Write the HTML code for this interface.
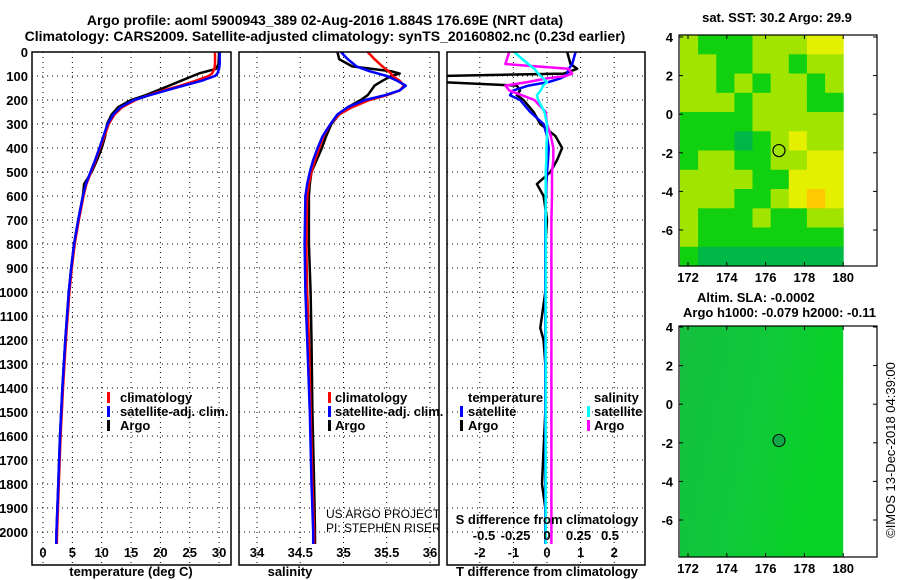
<!DOCTYPE html>
<html><head><meta charset="utf-8"><style>
body{margin:0;background:#fff}
svg{display:block;font-family:"Liberation Sans",sans-serif}
.b{font-weight:bold;font-size:13px}
</style></head><body>
<svg id="c" width="900" height="580" viewBox="0 0 900 580" xmlns="http://www.w3.org/2000/svg">
<defs>
<clipPath id="cp1"><rect x="32" y="52" width="199" height="513"/></clipPath>
<clipPath id="cp2"><rect x="239" y="52" width="200" height="513"/></clipPath>
<clipPath id="cp3"><rect x="447" y="52" width="198" height="513"/></clipPath>
<linearGradient id="slag" x1="0" y1="0" x2="1" y2="0.3">
<stop offset="0" stop-color="#14bf3e"/><stop offset="0.5" stop-color="#10c83a"/><stop offset="1" stop-color="#06d424"/></linearGradient>
</defs>
<text x="325" y="25" text-anchor="middle" class="b" style="font-size:14px">Argo profile: aoml 5900943_389 02-Aug-2016 1.884S 176.69E (NRT data)</text>
<text x="325" y="41" text-anchor="middle" class="b" style="font-size:14px">Climatology: CARS2009. Satellite-adjusted climatology: synTS_20160802.nc (0.23d earlier)</text>
<g id="g"></g>
</svg>
<script>
// ---- profile data ----
const tDepth=[0,50,70,90,100,120,140,160,180,200,230,260,300,350,400,450,500,550,600,700,800,900,1000,1200,1400,1600,1800,2000,2050];
const tClim=[29.3,29.3,29.2,28.8,28.2,26.0,23.5,20.5,18.0,15.8,13.5,12.2,11.2,10.5,9.7,9.0,8.2,7.4,6.9,6.1,5.4,4.9,4.5,3.9,3.4,3.0,2.7,2.4,2.35];
const tSat=[30.1,30.1,30.0,29.7,29.3,27.0,24.0,21.0,18.2,15.5,13.2,12.0,11.0,10.3,9.6,8.9,8.1,7.3,6.8,6.0,5.3,4.8,4.4,3.8,3.3,2.9,2.6,2.3,2.25];
const tArgo=[30.0,29.9,29.5,26.5,25.5,23.5,21.5,19.5,17.5,15.0,12.8,11.7,10.9,10.6,10.0,9.2,8.3,7.0,6.8,6.0,5.3,4.8,4.4,3.8,3.3,2.9,2.6,2.3,2.3];
const sDepth=[0,30,60,80,90,100,120,140,160,180,200,230,260,300,350,400,450,500,550,600,800,1000,1200,1500,1800,2000,2050];
const sClim=[35.28,35.36,35.45,35.52,35.55,35.57,35.65,35.70,35.65,35.5,35.3,35.1,34.95,34.85,34.77,34.72,34.67,34.63,34.6,34.58,34.57,34.58,34.6,34.62,34.64,34.66,34.66];
const sSat=[34.97,35.05,35.15,35.3,35.4,35.5,35.62,35.72,35.65,35.48,35.25,35.05,34.93,34.85,34.76,34.7,34.65,34.61,34.58,34.56,34.55,34.56,34.58,34.61,34.63,34.65,34.65];
const sArgo=[34.93,34.95,35.1,35.55,35.65,35.55,35.45,35.36,35.32,35.28,35.2,35.05,34.95,34.86,34.8,34.75,34.69,34.63,34.61,34.6,34.6,34.62,34.63,34.64,34.66,34.67,34.67];
const dDepth=[0,50,70,90,100,110,125,140,160,180,200,250,300,350,400,450,500,550,600,700,800,1000,1150,1200,1300,1500,1800,1900,2050];
const dTArgo=[0.6,0.7,0.9,0.5,-3.2,-3.2,-3.2,-0.9,-0.8,-0.9,-0.7,-0.4,-0.2,0.25,0.45,0.3,0.1,-0.3,-0.1,0,-0.05,-0.05,-0.2,-0.1,-0.05,-0.05,-0.15,-0.05,-0.05];
const dTSat=[0.85,0.75,0.65,0.6,0.55,0.4,0.05,-0.55,-1.0,-1.1,-0.8,-0.5,-0.1,0.0,0.05,0.03,0.0,-0.02,-0.03,-0.05,-0.05,-0.05,-0.05,-0.05,-0.05,-0.05,-0.05,-0.05,-0.05];
const dSArgo=[-0.3,-0.33,0.17,0.2,0.15,0.0,-0.15,-0.33,-0.3,-0.2,-0.1,-0.01,0.0,0.03,0.05,0.05,0.04,0.04,0.04,0.035,0.035,0.035,0.035,0.035,0.035,0.035,0.035,0.035,0.035];
const dSSat=[-0.26,-0.15,-0.1,-0.07,-0.05,-0.03,0,-0.03,-0.05,-0.08,-0.07,-0.02,0,0,-0.005,-0.005,-0.01,-0.01,-0.01,-0.01,-0.01,-0.01,-0.01,-0.01,-0.01,-0.01,-0.01,-0.01,-0.01];
const depthTicks=[0,100,200,300,400,500,600,700,800,900,1000,1100,1200,1300,1400,1500,1600,1700,1800,1900,2000];
const tTicks=[0,5,10,15,20,25,30];
const sTicks=[34,34.5,35,35.5,36];
const dtTicks=[-2,-1,0,1,2];
const dsTicks=[-0.5,-0.25,0,0.25,0.5];
// ---- SST map data (coarse grid, rows lat 4 -> -8, cols lon 171.6 -> 180) ----
const sstLevels=[
[2,1,1,1,2,2,2,3,3],
[2,2,1,1,2,2,1,2,2],
[2,2,1,2,1,2,2,1,2],
[2,2,2,1,2,2,2,1,1],
[1,1,1,1,2,2,2,2,2],
[1,1,1,0,1,2,3,2,2],
[1,2,2,1,1,2,2,3,3],
[2,2,2,2,1,1,3,3,3],
[2,2,2,1,1,2,3,4,3],
[2,1,1,1,2,1,1,2,2],
[2,1,1,1,1,1,1,1,1],
[1,0,0,0,0,0,0,0,0]];
const sstColors=["#00b848","#10d010","#a0e400","#e4f000","#ffc800"];
const argoLon=176.69, argoLat=-1.884;

const NS="http://www.w3.org/2000/svg";
const G=document.getElementById('g');
function mk(tag,attrs,parent){const e=document.createElementNS(NS,tag);for(const k in attrs)e.setAttribute(k,attrs[k]);(parent||G).appendChild(e);return e;}
const Y0=52,Y1=565,DPX=0.24;
const yD=d=>Y0+d*DPX;
const xT=v=>43+v*5.87;
const xS=v=>257+(v-34)*86.5;
const xDT=v=>547+v*33.6;
const xDS=v=>547+v*126;

function grid(x0,x1,xs){
  depthTicks.forEach(d=>{const l=mk('line',{x1:x0,x2:x1,y1:yD(d),y2:yD(d),stroke:'#000','stroke-dasharray':'1 4','stroke-width':1});
  
  });
  xs.forEach(x=>{const l=mk('line',{x1:x,x2:x,y1:Y0,y2:Y1,stroke:'#000','stroke-dasharray':'1 4','stroke-width':1});
  
  });
}
function frame(x0,x1,name){const r=mk('rect',{x:x0,y:Y0,width:x1-x0,height:Y1-Y0,fill:'none',stroke:'#000','stroke-width':1.5});

}
function line(depths,vals,fx,color,clip,name,w){
  const pts=depths.map((d,i)=>fx(vals[i]).toFixed(1)+','+yD(d).toFixed(1)).join(' ');
  const p=mk('polyline',{points:pts,fill:'none',stroke:color,'stroke-width':w||2.5,'clip-path':'url(#'+clip+')','stroke-linejoin':'round'});
  
  
}
function txt(x,y,s,anchor,cls,name,extra){const t=mk('text',Object.assign({x:x,y:y,'text-anchor':anchor||'start'},extra||{}));if(cls)t.setAttribute('class',cls);t.textContent=s;

return t;}
function legBar(x,y,color,name){const r=mk('rect',{x:x,y:y-10,width:3,height:11,fill:color});

}

// Panel 1
grid(32,231,tTicks.map(xT));
line(tDepth,tArgo,xT,'#000','cp1','temp-argo-line');
line(tDepth,tClim,xT,'#f00','cp1','temp-climatology-line');
line(tDepth,tSat,xT,'#00f','cp1','temp-satellite-line');
frame(32,231,'temperature-panel');
depthTicks.forEach(d=>txt(28,yD(d)+5,String(d),'end','b','depth-tick-label'));
tTicks.forEach(v=>txt(xT(v),557,String(v),'middle','b','temp-tick-label'));
txt(131,576,'temperature (deg C)','middle','b','temp-axis-title');
legBar(107,402,'#f00','legend-climatology-swatch');txt(120,402,'climatology','start','b','legend-climatology');
legBar(107,416,'#00f','legend-satellite-swatch');txt(120,416,'satellite-adj. clim.','start','b','legend-satellite');
legBar(107,430,'#000','legend-argo-swatch');txt(120,430,'Argo','start','b','legend-argo');

// Panel 2
grid(239,439,sTicks.map(xS));
line(sDepth,sArgo,xS,'#000','cp2','sal-argo-line');
line(sDepth,sClim,xS,'#f00','cp2','sal-climatology-line');
line(sDepth,sSat,xS,'#00f','cp2','sal-satellite-line');
frame(239,439,'salinity-panel');
sTicks.forEach(v=>txt(xS(v),557,String(v),'middle','b','sal-tick-label'));
txt(290,576,'salinity','middle','b','sal-axis-title');
legBar(328,402,'#f00','legend2-climatology-swatch');txt(335,402,'climatology','start','b','legend2-climatology');
legBar(328,416,'#00f','legend2-satellite-swatch');txt(335,416,'satellite-adj. clim.','start','b','legend2-satellite');
legBar(328,430,'#000','legend2-argo-swatch');txt(335,430,'Argo','start','b','legend2-argo');
const cg=mk('g',{'clip-path':'url(#cp2)'});


[['US ARGO PROJECT',518],['PI: STEPHEN RISER',532]].forEach(a=>{const t=mk('text',{x:326,y:a[1],'font-size':'12px'},cg);t.textContent=a[0];

});

// Panel 3
grid(447,645,dtTicks.map(xDT));
line(dDepth,dTArgo,xDT,'#000','cp3','dtemp-argo-line');
line(dDepth,dTSat,xDT,'#00f','cp3','dtemp-satellite-line');
line(dDepth,dSArgo,xDS,'#f0f','cp3','dsal-argo-line');
line(dDepth,dSSat,xDS,'#0ff','cp3','dsal-satellite-line');
frame(447,645,'difference-panel');
dtTicks.forEach(v=>txt(xDT(v),557,String(v),'middle','b','dtemp-tick-label'));
dsTicks.forEach(v=>txt(xDS(v),540,String(v),'middle','b','dsal-tick-label'));
txt(547,524,'S difference from climatology','middle','b','dsal-axis-title');
txt(547,576,'T difference from climatology','middle','b','dtemp-axis-title');
txt(468,402,'temperature','start','b','legend3-temperature-heading');
legBar(460,416,'#00f','legend3-tsat-swatch');txt(468,416,'satellite','start','b','legend3-tsat');
legBar(460,430,'#000','legend3-targo-swatch');txt(468,430,'Argo','start','b','legend3-targo');
txt(594,402,'salinity','start','b','legend3-salinity-heading');
legBar(587,416,'#0ff','legend3-ssat-swatch');txt(594,416,'satellite','start','b','legend3-ssat');
legBar(587,430,'#f0f','legend3-sargo-swatch');txt(594,430,'Argo','start','b','legend3-sargo');

// Maps
const lonX=lon=>688+(lon-172)*19.4;
function mapAxes(top,lat4y,name){
  const latY=lat=>lat4y+(4-lat)*19.3;
  const bot=top+231;
  const fr=mk('rect',{x:679,y:top,width:198,height:231,fill:'none',stroke:'#000','stroke-width':1.2});
  
  
  [4,2,0,-2,-4,-6].forEach(l=>{txt(673,latY(l)+5,String(l),'end','b',name+'-lat-label');
    mk('line',{x1:679,x2:683,y1:latY(l),y2:latY(l),stroke:'#000'});mk('line',{x1:873,x2:877,y1:latY(l),y2:latY(l),stroke:'#000'});});
  [172,174,176,178,180].forEach(l=>{txt(lonX(l),bot+16,String(l),'middle','b',name+'-lon-label');
    mk('line',{x1:lonX(l),x2:lonX(l),y1:top,y2:top+4,stroke:'#000'});mk('line',{x1:lonX(l),x2:lonX(l),y1:bot-4,y2:bot,stroke:'#000'});});
  return latY;
}
// SST map
(function(){
  const latY=lat=>37+(4-lat)*19.3;
  const x0=680,x1=lonX(180),y0=35,y1=266;
  const nr=sstLevels.length,nc=sstLevels[0].length;
  const cw=(x1-x0)/nc,ch=(y1-y0)/nr;
  sstLevels.forEach((row,r)=>row.forEach((v,c)=>{
    const e=mk('rect',{x:(x0+c*cw).toFixed(1),y:(y0+r*ch).toFixed(1),width:(cw+0.5).toFixed(1),height:(ch+0.5).toFixed(1),fill:sstColors[v]});
    
    
  }));
  mapAxes(35,37,'sst-map');
  const c=mk('circle',{cx:lonX(argoLon),cy:latY(argoLat),r:6,fill:'none',stroke:'#000','stroke-width':1.2});
  
  
})();
txt(777,22,'sat. SST: 30.2 Argo: 29.9','middle','b','sst-map-title');
// SLA map
(function(){
  const latY=lat=>327+(4-lat)*19.3;
  const r=mk('rect',{x:680,y:326,width:lonX(180)-680,height:231,fill:'url(#slag)'});
  
  
  mapAxes(326,327,'sla-map');
  const c=mk('circle',{cx:lonX(argoLon),cy:latY(argoLat),r:6,fill:'#10a848',stroke:'#000','stroke-width':1});
  
  
})();
txt(697,302,'Altim. SLA: -0.0002','start','b','sla-map-title');
txt(683,317,'Argo h1000: -0.079 h2000: -0.11','start','b','sla-map-subtitle');
txt(0,0,'\u00a9IMOS 13-Dec-2018 04:39:00','middle',null,'timestamp',{transform:'translate(895,450) rotate(-90)','font-size':'13px'});
</script>
</body></html>
